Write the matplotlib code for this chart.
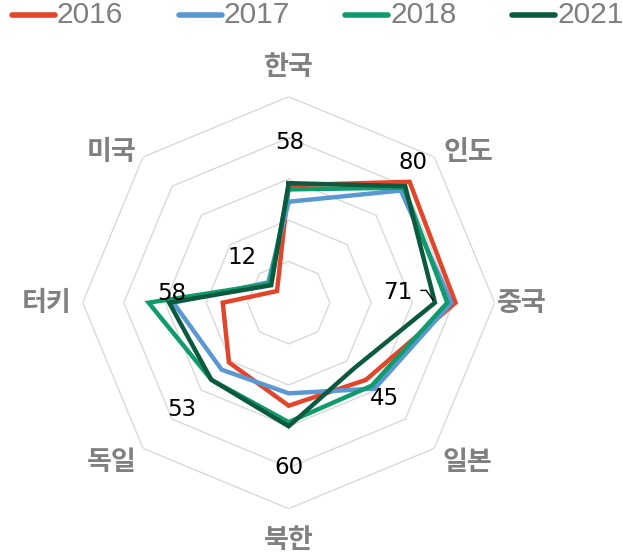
import numpy as np
import matplotlib
matplotlib.use("Agg")
import matplotlib.pyplot as plt
from matplotlib.lines import Line2D

categories = ["한국", "인도", "중국", "일본", "북한", "독일", "터키", "미국"]
years = ["2016", "2017", "2018", "2021"]
v2016 = [57, 83, 81, 53, 50, 41, 32, 8]
v2017 = [49, 77, 79, 59, 44, 46, 56, 14]
v2018 = [55, 79, 77, 57, 58, 53, 68, 13]
v2021 = [58, 80, 71, 45, 60, 53, 58, 12]
rings = [20, 40, 60, 80, 100]

colors = ["#e2452a", "#5a98d2", "#0f9b6c", "#0b5a3f"]
series = [v2016, v2017, v2018, v2021]

# label offsets in pixels (dx, dy with y up)
cat_off = [(0, 30), (34, 5), (27, 0), (33, -14), (0, -31), (-31, -14), (-36, 0), (-31, 5)]
val_off = [(1, 41), (8, 24), (-37, 10), (30, -30), (0, -41), (-30, -30), (3, 9), (-29, 28)]

kr_font = ["Noto Sans CJK KR", "DejaVu Sans"]

dpi = 100
W, H = 623, 556
fig = plt.figure(figsize=(W / dpi, H / dpi), dpi=dpi)
ax = fig.add_axes([0.1327, 0.0851, 0.6613, 0.741], polar=True)
ax.set_theta_zero_location("N")
ax.set_theta_direction(-1)
ax.set_ylim(0, 100)
ax.grid(False)
ax.spines["polar"].set_visible(False)
ax.set_xticks([])
ax.set_yticks([])
ax.patch.set_visible(False)

n = len(categories)
theta = np.arange(n) * 2 * np.pi / n
theta_c = np.append(theta, theta[0])

for r in rings:
    ax.plot(theta_c, [r] * (n + 1), color="#d9d9d9", lw=1, zorder=1)

for vals, col in zip(series, colors):
    v = np.append(vals, vals[0])
    ax.plot(theta_c, v, color=col, lw=3.2, solid_joinstyle="miter", zorder=3)

px = 72 / dpi
for t, lab, (dx, dy) in zip(theta, categories, cat_off):
    ax.annotate(lab, xy=(t, 100), xytext=(dx * px, dy * px), textcoords="offset points",
                ha="center", va="center", fontsize=19.5, color="#808080",
                family=kr_font, fontweight="bold")

for i, (t, val, (dx, dy)) in enumerate(zip(theta, v2021, val_off)):
    kw = dict(xy=(t, val), xytext=(dx * px, dy * px), textcoords="offset points",
              ha="center", va="center", fontsize=16.5, color="black", zorder=5,
              family="DejaVu Sans")
    if categories[i] == "중국":
        kw["arrowprops"] = dict(arrowstyle="-", color="black", lw=1,
                                connectionstyle="angle,angleA=0,angleB=125,rad=0",
                                relpos=(1, 0.6), shrinkA=4, shrinkB=2)
    ax.annotate(str(val), **kw)

# legend across the top
x0, pitch, y_leg = 12, 166.7, H - 15
for k, (yr, col) in enumerate(zip(years, colors)):
    xs = x0 + k * pitch
    fig.add_artist(Line2D([xs / W, (xs + 43) / W], [y_leg / H, y_leg / H],
                          color=col, lw=4, solid_capstyle="round"))
    fig.text((xs + 45) / W, y_leg / H, yr, ha="left", va="center",
             family="Liberation Sans", fontsize=21.5, color="#7f7f7f")

fig.savefig("out.png", dpi=dpi)
